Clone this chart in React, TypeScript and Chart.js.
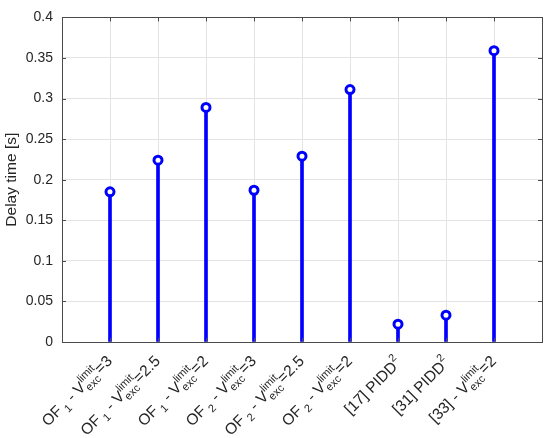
import React, { useEffect, useRef } from 'react';
import { Chart, registerables } from 'chart.js';

Chart.register(...registerables);

// Category labels (TeX-like: _{sub}, ^{sup})
const categoryLabels = [
  'OF_{ 1} - V_{exc}^{limit}=3',
  'OF_{ 1} - V_{exc}^{limit}=2.5',
  'OF_{ 1} - V_{exc}^{limit}=2',
  'OF_{ 2} - V_{exc}^{limit}=3',
  'OF_{ 2} - V_{exc}^{limit}=2.5',
  'OF_{ 2} - V_{exc}^{limit}=2',
  '[17] PIDD^{2}',
  '[31] PIDD^{2}',
  '[33] - V_{exc}^{limit}=2',
];
const categoryPositions = [1, 2, 3, 4, 5, 6, 7, 8, 9];
const delayTimes = [0.185, 0.224, 0.289, 0.187, 0.229, 0.311, 0.022, 0.033, 0.359];

const yTicks = [0, 0.05, 0.1, 0.15, 0.2, 0.25, 0.3, 0.35, 0.4];
const yTitle = 'Delay time [s]';

const FONT = '"Liberation Sans", Arial, Helvetica, sans-serif';
const TEXT_COLOR = '#262626';
const STEM_COLOR = '#0000ff';

type Seg = { main?: string; sub?: string; sup?: string };

function parseLabel(s: string): Seg[] {
  const segs: Seg[] = [];
  let i = 0;
  let buf = '';
  const readGroup = (): string => {
    let j = i + 1;
    let depth = 1;
    let out = '';
    while (j < s.length && depth > 0) {
      if (s[j] === '{') depth++;
      else if (s[j] === '}') {
        depth--;
        if (depth === 0) break;
      }
      out += s[j];
      j++;
    }
    i = j + 1;
    return out;
  };
  while (i < s.length) {
    const c = s[i];
    if ((c === '_' || c === '^') && s[i + 1] === '{') {
      if (buf) {
        segs.push({ main: buf });
        buf = '';
      }
      const seg: Seg = {};
      while ((s[i] === '_' || s[i] === '^') && s[i + 1] === '{') {
        const kind = s[i];
        i++;
        const g = readGroup();
        if (kind === '_') seg.sub = g;
        else seg.sup = g;
      }
      segs.push(seg);
    } else {
      buf += c;
      i++;
    }
  }
  if (buf) segs.push({ main: buf });
  return segs;
}

const MAIN_SIZE = 15.5;
const SCRIPT_SIZE = 11;
const SUB_SHIFT = 4.5;
const SUP_SHIFT = -7.5;
const LABEL_GAP = 17;

const labelPlugin = {
  id: 'texLabels',
  afterDraw(chart: any) {
    const ctx: CanvasRenderingContext2D = chart.ctx;
    const xs = chart.scales.x;
    const bottom = chart.chartArea.bottom;
    ctx.save();
    ctx.fillStyle = TEXT_COLOR;
    ctx.textBaseline = 'alphabetic';
    ctx.textAlign = 'left';
    categoryLabels.forEach((lab, idx) => {
      const segs = parseLabel(lab);
      const mainFont = `${MAIN_SIZE}px ${FONT}`;
      const scriptFont = `${SCRIPT_SIZE}px ${FONT}`;
      let W = 0;
      let top = -11.5;
      let bot = 3;
      const widths: number[] = [];
      segs.forEach((sg) => {
        let w = 0;
        if (sg.main !== undefined) {
          ctx.font = mainFont;
          w = ctx.measureText(sg.main).width;
        } else {
          ctx.font = scriptFont;
          const ws = sg.sub ? ctx.measureText(sg.sub).width : 0;
          const wp = sg.sup ? ctx.measureText(sg.sup).width : 0;
          w = Math.max(ws, wp);
          if (sg.sup) top = Math.min(top, SUP_SHIFT - 8);
          if (sg.sub) bot = Math.max(bot, SUB_SHIFT + 2.5);
        }
        widths.push(w);
        W += w;
      });
      const mid = (top + bot) / 2;
      const ax = xs.getPixelForValue(categoryPositions[idx]);
      const ay = bottom + LABEL_GAP;
      ctx.save();
      ctx.translate(ax, ay);
      ctx.rotate(-Math.PI / 4);
      let x = -W;
      const base = -mid;
      segs.forEach((sg, k) => {
        if (sg.main !== undefined) {
          ctx.font = mainFont;
          ctx.fillText(sg.main, x, base);
        } else {
          ctx.font = scriptFont;
          if (sg.sub) ctx.fillText(sg.sub, x, base + SUB_SHIFT);
          if (sg.sup) ctx.fillText(sg.sup, x, base + SUP_SHIFT);
        }
        x += widths[k];
      });
      ctx.restore();
    });
    ctx.restore();
  },
};

const boxPlugin = {
  id: 'axesBox',
  afterDatasetsDraw(chart: any) {
    const { ctx, chartArea } = chart;
    const { left, right, top, bottom } = chartArea;
    ctx.save();
    ctx.strokeStyle = '#4a4a4a';
    ctx.lineWidth = 1;
    const xs = chart.scales.x;
    const ys = chart.scales.y;
    ctx.beginPath();
    xs.ticks.forEach((t: any) => {
      const px = Math.round(xs.getPixelForValue(t.value)) + 0.5;
      ctx.moveTo(px, bottom);
      ctx.lineTo(px, bottom - 4);
      ctx.moveTo(px, top);
      ctx.lineTo(px, top + 4);
    });
    ys.ticks.forEach((t: any) => {
      const py = Math.round(ys.getPixelForValue(t.value)) + 0.5;
      ctx.moveTo(left, py);
      ctx.lineTo(left + 4, py);
      ctx.moveTo(right, py);
      ctx.lineTo(right - 4, py);
    });
    ctx.stroke();
    ctx.strokeRect(Math.round(left) + 0.5, Math.round(top) + 0.5, Math.round(right - left), Math.round(bottom - top));
    ctx.restore();
  },
};

export default function App() {
  const ref = useRef<HTMLCanvasElement | null>(null);
  useEffect(() => {
    if (!ref.current) return;
    const pts = categoryPositions.map((x, i) => ({ x, y: delayTimes[i] }));
    const chart = new Chart(ref.current, {
      type: 'bar',
      data: {
        datasets: [
          {
            type: 'line',
            data: pts,
            showLine: false,
            pointRadius: 4,
            pointBorderWidth: 3,
            pointBorderColor: STEM_COLOR,
            pointBackgroundColor: '#ffffff',
            order: 0,
          } as any,
          {
            type: 'bar',
            data: pts,
            backgroundColor: STEM_COLOR,
            barThickness: 3,
            order: 1,
          } as any,
        ],
      },
      options: {
        responsive: false,
        animation: false,
        layout: { padding: { left: 0, top: 12, right: 8, bottom: 96 } },
        plugins: { legend: { display: false }, tooltip: { enabled: false } },
        scales: {
          x: {
            type: 'linear',
            min: 0,
            max: 10,
            offset: false,
            ticks: { display: false, stepSize: 1 },
            grid: { color: '#e3e3e3', drawTicks: false, offset: false },
            border: { display: false },
            afterFit: (s: any) => {
              s.height = 0;
            },
          },
          y: {
            type: 'linear',
            min: 0,
            max: 0.4,
            afterBuildTicks: (s: any) => {
              s.ticks = yTicks.map((v) => ({ value: v }));
            },
            ticks: {
              font: { family: FONT, size: 14 },
              color: TEXT_COLOR,
              padding: 9,
              callback: (v: any) => String(Number(v)),
            },
            grid: { color: '#e3e3e3', drawTicks: false },
            border: { display: false },
            title: {
              display: true,
              text: yTitle,
              font: { family: FONT, size: 15.5 },
              color: TEXT_COLOR,
              padding: { top: 2, bottom: 0 },
            },
            afterFit: (s: any) => {
              s.width = 62;
            },
          },
        },
      } as any,
      plugins: [boxPlugin, labelPlugin],
    });
    return () => chart.destroy();
  }, []);
  return (
    <div style={{ position: 'absolute', left: 0, top: 0, width: 550, height: 438, background: '#fff' }}>
      <canvas ref={ref} width={550} height={438} />
    </div>
  );
}
